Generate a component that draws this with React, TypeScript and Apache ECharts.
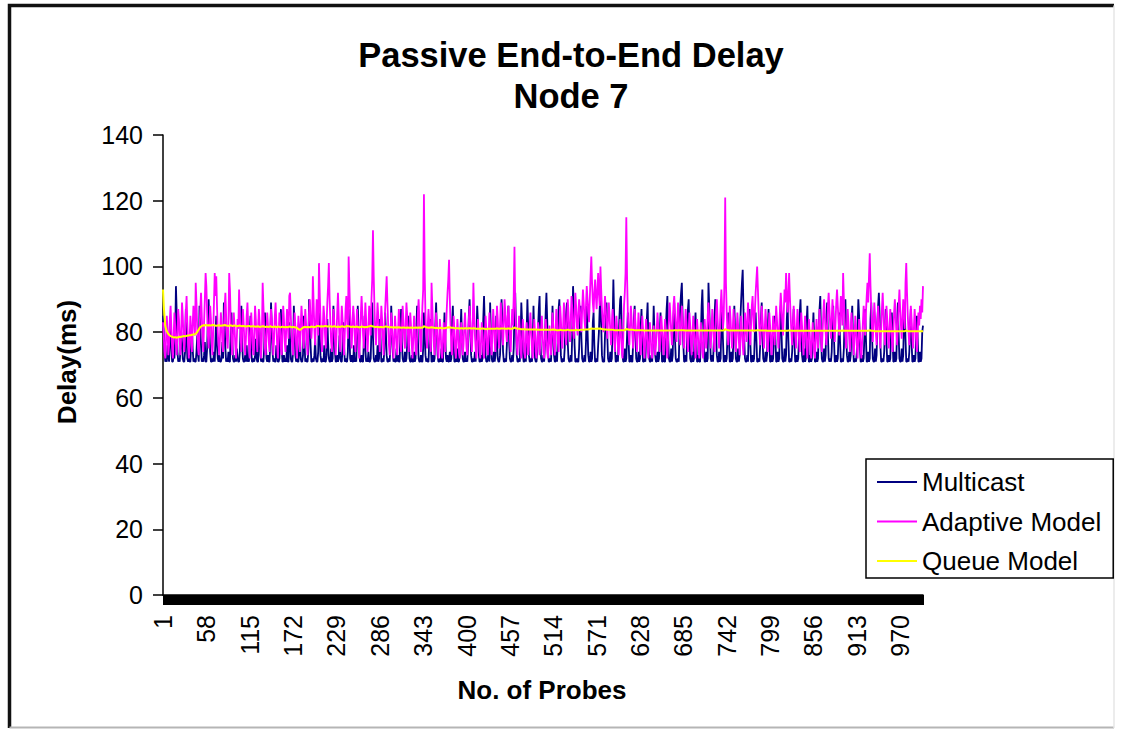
import React, { useEffect, useRef } from "react";
import * as echarts from "echarts";

const probeCount = 1000;
const probeNumbers: string[] = Array.from({ length: probeCount }, (_, i) => String(i + 1));
const yTicks = { min: 0, max: 140, step: 20 };
const seriesNames = ["Multicast", "Adaptive Model", "Queue Model"];

const multicast: number[] = [
  // 1
  85, 80, 74, 71, 72, 71, 76, 73, 71, 79,
  83, 75, 71, 71, 73, 72, 78, 94, 86, 74,
  71, 72, 71, 75, 80, 77, 72, 71, 71, 74,
  87, 79, 72, 71, 73, 71, 71, 76, 82, 75,
  71, 72, 71, 71, 74, 79, 73, 71, 88, 82,
  76, 71, 72, 71, 73, 77, 71, 71, 75, 84,
  90, 81, 74, 71, 71, 72, 71, 74, 71, 78,
  85, 76, 72, 71, 73, 71, 71, 72, 77, 72,
  89, 83, 75, 71, 72, 71, 74, 71, 71, 80,
  86, 78, 72, 71, 71, 73, 71, 75, 72, 71,
  // 101
  71, 74, 81, 88, 77, 72, 71, 71, 73, 71,
  76, 71, 72, 71, 79, 85, 74, 71, 71, 72,
  71, 73, 78, 72, 71, 71, 84, 80, 73, 71,
  72, 71, 71, 75, 86, 79, 72, 71, 73, 71,
  71, 77, 89, 82, 74, 71, 72, 71, 71, 76,
  73, 71, 71, 72, 80, 87, 75, 71, 71, 73,
  71, 72, 71, 76, 71, 71, 83, 78, 72, 71,
  71, 74, 88, 81, 73, 71, 72, 71, 71, 75,
  79, 72, 71, 71, 73, 85, 77, 71, 72, 71,
  71, 74, 90, 84, 76, 71, 71, 72, 71, 73,
  // 201
  78, 72, 71, 71, 74, 86, 80, 73, 71, 71,
  72, 71, 76, 71, 71, 73, 84, 77, 72, 71,
  71, 75, 71, 72, 88, 82, 74, 71, 71, 73,
  71, 72, 79, 73, 71, 71, 75, 83, 76, 71,
  72, 71, 71, 74, 87, 80, 72, 71, 73, 71,
  71, 76, 71, 72, 71, 78, 88, 81, 74, 71,
  71, 73, 71, 71, 77, 85, 75, 71, 72, 71,
  74, 71, 71, 72, 81, 89, 79, 72, 71, 71,
  73, 71, 76, 71, 72, 84, 78, 71, 71, 72,
  71, 75, 86, 80, 73, 71, 71, 72, 71, 77,
  // 301
  88, 82, 74, 71, 72, 71, 71, 75, 71, 73,
  71, 71, 79, 87, 77, 72, 71, 71, 74, 71,
  72, 76, 85, 79, 72, 71, 71, 73, 71, 71,
  74, 71, 72, 81, 88, 78, 72, 71, 71, 73,
  71, 71, 75, 86, 80, 73, 71, 72, 71, 71,
  77, 84, 76, 71, 71, 73, 71, 72, 82, 89,
  80, 73, 71, 71, 72, 71, 75, 71, 71, 78,
  86, 79, 72, 71, 73, 71, 71, 74, 71, 72,
  83, 88, 77, 71, 71, 72, 71, 75, 71, 71,
  73, 80, 87, 78, 72, 71, 71, 74, 71, 72,
  // 401
  71, 76, 85, 90, 81, 73, 71, 71, 72, 71,
  74, 71, 79, 88, 83, 74, 71, 71, 73, 71,
  72, 84, 91, 82, 73, 71, 71, 72, 76, 71,
  89, 80, 72, 71, 71, 74, 71, 73, 85, 78,
  72, 71, 71, 73, 79, 90, 84, 74, 71, 71,
  72, 71, 76, 84, 88, 77, 72, 71, 71, 73,
  71, 75, 86, 92, 81, 73, 71, 71, 72, 71,
  78, 89, 83, 74, 71, 71, 73, 71, 80, 90,
  82, 73, 71, 71, 72, 71, 76, 88, 79, 72,
  71, 71, 74, 81, 87, 91, 78, 72, 71, 71,
  // 501
  73, 71, 76, 86, 92, 84, 75, 71, 71, 72,
  71, 78, 88, 80, 73, 71, 71, 74, 71, 79,
  87, 90, 81, 73, 71, 71, 72, 71, 75, 83,
  86, 89, 77, 72, 71, 71, 73, 71, 80, 94,
  87, 76, 71, 71, 72, 71, 71, 75, 84, 88,
  78, 72, 71, 71, 73, 71, 77, 88, 81, 73,
  71, 71, 74, 71, 72, 83, 86, 76, 71, 71,
  72, 71, 76, 80, 87, 91, 82, 73, 71, 71,
  71, 79, 84, 89, 79, 72, 71, 71, 74, 71,
  72, 83, 96, 85, 76, 71, 71, 73, 71, 78,
  // 601
  85, 90, 91, 81, 73, 71, 71, 75, 71, 72,
  79, 86, 77, 71, 71, 73, 71, 71, 77, 84,
  88, 79, 72, 71, 71, 74, 71, 72, 82, 87,
  76, 71, 71, 72, 71, 78, 84, 89, 78, 72,
  71, 71, 73, 71, 77, 88, 80, 73, 71, 71,
  74, 71, 72, 79, 86, 77, 71, 71, 73, 71,
  71, 81, 87, 91, 79, 72, 71, 71, 75, 71,
  73, 84, 89, 78, 72, 71, 71, 72, 71, 82,
  88, 92, 95, 85, 76, 71, 71, 73, 71, 79,
  87, 90, 79, 72, 71, 71, 74, 71, 72, 82,
  // 701
  86, 78, 71, 71, 73, 71, 71, 79, 88, 93,
  83, 75, 71, 71, 74, 71, 72, 95, 88, 79,
  72, 71, 73, 71, 77, 85, 90, 80, 73, 71,
  71, 74, 71, 72, 83, 87, 78, 71, 71, 73,
  71, 72, 79, 86, 77, 71, 71, 74, 71, 72,
  81, 88, 80, 72, 71, 71, 75, 71, 73, 84,
  90, 95, 99, 87, 78, 72, 71, 71, 73, 71,
  82, 87, 77, 71, 71, 73, 71, 72, 80, 86,
  78, 71, 71, 72, 71, 76, 84, 89, 79, 72,
  71, 71, 74, 71, 73, 81, 87, 77, 71, 71,
  // 801
  73, 71, 72, 79, 85, 78, 71, 71, 74, 71,
  72, 83, 88, 80, 72, 71, 71, 75, 71, 73,
  84, 89, 78, 71, 71, 72, 71, 74, 81, 87,
  77, 71, 71, 73, 71, 72, 79, 86, 90, 80,
  73, 71, 71, 75, 71, 72, 83, 88, 78, 71,
  71, 73, 71, 72, 80, 86, 77, 71, 71, 74,
  71, 72, 81, 87, 91, 79, 72, 71, 71, 75,
  71, 73, 84, 89, 79, 72, 71, 72, 71, 74,
  83, 88, 78, 71, 71, 73, 71, 72, 79, 86,
  77, 71, 71, 72, 71, 75, 85, 90, 80, 73,
  // 901
  71, 71, 74, 71, 73, 83, 88, 78, 71, 71,
  72, 71, 74, 81, 90, 85, 77, 71, 71, 73,
  71, 72, 79, 87, 78, 71, 71, 74, 71, 72,
  84, 89, 79, 72, 71, 71, 75, 71, 73, 83,
  88, 92, 85, 76, 71, 71, 72, 71, 74, 81,
  87, 77, 71, 71, 73, 71, 72, 80, 86, 78,
  71, 71, 74, 71, 72, 83, 89, 79, 72, 71,
  71, 75, 71, 73, 84, 88, 78, 71, 71, 72,
  71, 74, 81, 87, 77, 71, 71, 73, 71, 72,
  79, 85, 78, 71, 71, 74, 71, 72, 80, 82,
];

const adaptiveModel: number[] = [
  // 1
  83, 79, 74, 72, 78, 85, 80, 73, 76, 84,
  88, 81, 75, 72, 79, 86, 82, 76, 73, 80,
  87, 84, 77, 73, 81, 89, 85, 78, 74, 79,
  86, 91, 83, 76, 72, 78, 85, 80, 74, 82,
  88, 84, 79, 95, 89, 81, 75, 73, 80, 87,
  92, 85, 78, 74, 83, 90, 98, 94, 86, 79,
  75, 82, 88, 84, 77, 73, 80, 89, 98, 91,
  97, 88, 80, 76, 73, 79, 86, 83, 77, 74,
  81, 87, 92, 85, 78, 75, 82, 98, 93, 84,
  77, 73, 79, 86, 82, 76, 72, 78, 84, 81,
  // 101
  93, 86, 79, 74, 80, 87, 83, 77, 73, 78,
  85, 89, 82, 76, 72, 79, 86, 81, 75, 73,
  80, 88, 84, 78, 74, 81, 87, 83, 76, 72,
  79, 95, 88, 81, 75, 73, 80, 86, 82, 77,
  74, 81, 87, 84, 79, 73, 78, 85, 89, 83,
  76, 72, 79, 86, 82, 75, 73, 80, 88, 84,
  77, 74, 81, 87, 83, 78, 91, 92, 85, 79,
  75, 73, 80, 86, 82, 76, 72, 79, 85, 81,
  74, 82, 88, 84, 78, 75, 81, 87, 83, 77,
  73, 79, 86, 90, 84, 78, 82, 97, 89, 81,
  // 201
  76, 83, 90, 86, 79, 101, 92, 84, 78, 74,
  81, 88, 85, 79, 75, 82, 89, 94, 101, 90,
  83, 77, 74, 80, 87, 84, 78, 73, 79, 86,
  92, 85, 78, 74, 81, 88, 84, 77, 73, 80,
  87, 91, 84, 78, 103, 94, 86, 80, 75, 82,
  88, 85, 79, 74, 80, 87, 83, 77, 72, 78,
  85, 91, 86, 79, 75, 82, 89, 84, 78, 74,
  81, 88, 85, 79, 90, 96, 111, 97, 87, 80,
  76, 83, 89, 85, 79, 74, 81, 88, 84, 78,
  73, 80, 87, 92, 97, 89, 82, 76, 73, 79,
  // 301
  86, 82, 76, 72, 78, 85, 81, 75, 73, 80,
  87, 83, 77, 74, 81, 88, 84, 78, 75, 82,
  89, 85, 79, 74, 80, 86, 82, 76, 72, 78,
  85, 81, 75, 73, 79, 86, 90, 84, 78, 74,
  81, 88, 93, 122, 98, 85, 79, 75, 82, 87,
  83, 77, 74, 95, 88, 81, 76, 73, 79, 86,
  82, 76, 72, 78, 84, 80, 74, 72, 77, 83,
  79, 74, 81, 87, 92, 96, 102, 90, 82, 76,
  73, 79, 85, 81, 75, 72, 78, 84, 80, 74,
  72, 77, 83, 79, 73, 76, 82, 86, 80, 75,
  // 401
  73, 78, 84, 88, 83, 77, 74, 81, 95, 86,
  79, 75, 72, 78, 84, 80, 74, 72, 77, 83,
  79, 74, 72, 78, 85, 81, 75, 73, 79, 86,
  82, 76, 73, 80, 87, 83, 77, 74, 81, 88,
  84, 78, 75, 82, 89, 85, 79, 76, 83, 90,
  86, 80, 77, 84, 88, 83, 78, 74, 81, 87,
  82, 91, 106, 88, 81, 76, 73, 79, 85, 81,
  75, 72, 78, 84, 80, 74, 72, 77, 83, 79,
  73, 76, 82, 86, 80, 75, 72, 78, 84, 80,
  74, 72, 77, 83, 79, 73, 76, 81, 85, 79,
  // 501
  74, 72, 78, 84, 80, 74, 72, 77, 82, 78,
  73, 79, 86, 82, 76, 73, 80, 87, 83, 77,
  74, 81, 88, 84, 78, 75, 82, 89, 85, 79,
  76, 83, 90, 86, 80, 77, 84, 91, 87, 81,
  78, 85, 92, 88, 82, 79, 86, 90, 87, 83,
  80, 87, 93, 89, 84, 81, 88, 94, 90, 86,
  83, 90, 97, 103, 95, 89, 86, 92, 96, 91,
  87, 93, 98, 92, 88, 100, 93, 87, 83, 80,
  86, 91, 87, 82, 78, 84, 89, 85, 80, 76,
  82, 87, 83, 78, 74, 80, 85, 81, 76, 73,
  // 601
  79, 84, 80, 75, 72, 78, 88, 92, 98, 115,
  97, 86, 80, 76, 82, 88, 84, 79, 75, 81,
  87, 83, 78, 74, 80, 86, 82, 77, 73, 79,
  85, 81, 76, 72, 78, 84, 80, 75, 72, 77,
  83, 79, 74, 72, 77, 82, 78, 73, 76, 81,
  86, 82, 77, 74, 80, 85, 81, 76, 73, 79,
  84, 80, 75, 72, 78, 84, 89, 85, 80, 76,
  82, 88, 91, 86, 81, 77, 83, 89, 85, 80,
  76, 82, 88, 84, 79, 75, 81, 87, 83, 78,
  74, 80, 86, 82, 77, 73, 79, 85, 81, 76,
  // 701
  72, 78, 84, 80, 75, 72, 77, 83, 79, 74,
  72, 78, 84, 80, 75, 79, 85, 89, 84, 79,
  75, 81, 87, 83, 78, 74, 80, 86, 90, 84,
  79, 75, 82, 88, 93, 87, 81, 84, 96, 121,
  95, 86, 80, 76, 82, 88, 84, 79, 75, 81,
  87, 83, 78, 74, 80, 86, 82, 77, 73, 79,
  85, 81, 76, 73, 79, 86, 82, 77, 83, 89,
  85, 80, 76, 82, 88, 91, 85, 80, 86, 92,
  96, 100, 93, 86, 80, 76, 82, 88, 84, 79,
  75, 81, 87, 83, 78, 74, 80, 86, 82, 77,
  // 801
  73, 79, 85, 81, 76, 82, 88, 84, 79, 75,
  81, 87, 92, 88, 83, 79, 86, 93, 89, 98,
  92, 86, 90, 98, 91, 85, 80, 76, 82, 88,
  84, 79, 75, 81, 87, 83, 78, 74, 80, 86,
  82, 77, 73, 79, 85, 81, 76, 72, 78, 84,
  80, 75, 72, 77, 83, 79, 74, 72, 78, 84,
  80, 75, 81, 87, 83, 78, 74, 80, 86, 90,
  85, 80, 76, 82, 88, 92, 87, 82, 78, 84,
  90, 86, 81, 77, 83, 89, 93, 88, 83, 79,
  85, 91, 87, 82, 98, 90, 84, 79, 75, 81,
  // 901
  87, 83, 78, 74, 80, 86, 82, 77, 73, 79,
  85, 81, 76, 72, 78, 84, 80, 75, 72, 77,
  83, 88, 84, 79, 86, 91, 95, 89, 97, 104,
  94, 87, 81, 77, 83, 89, 85, 80, 76, 82,
  88, 84, 79, 75, 81, 87, 92, 86, 80, 76,
  82, 88, 84, 79, 75, 81, 87, 83, 78, 74,
  80, 86, 90, 85, 80, 76, 82, 88, 93, 87,
  82, 78, 84, 90, 86, 81, 95, 101, 92, 85,
  80, 76, 82, 88, 84, 79, 75, 81, 87, 83,
  78, 74, 80, 86, 82, 88, 84, 90, 86, 94,
];

const queueModel: number[] = [
  // 1
  93, 88, 84.5, 82, 81, 80.3, 79.8, 79.5, 79.2, 79,
  78.8, 78.7, 78.6, 78.5, 78.4, 78.4, 78.5, 78.4, 78.3, 78.4,
  78.5, 78.5, 78.6, 78.5, 78.6, 78.7, 78.7, 78.8, 78.8, 78.7,
  78.8, 78.9, 78.9, 79, 79, 79.1, 79, 79.1, 79.2, 79.2,
  79.3, 79.3, 79.4, 79.5, 79.7, 80, 80.4, 80.8, 81.2, 81.5,
  81.7, 81.9, 82, 82.1, 82, 82.1, 82.2, 82.1, 82.1, 82,
  82.1, 82.1, 82, 82, 82.1, 82.2, 82.2, 82.1, 82, 82,
  81.9, 82, 82, 82.1, 82.1, 82, 81.9, 82, 82, 82,
  82.1, 82.2, 82.1, 82, 82, 81.9, 81.9, 82, 82.1, 82,
  82, 81.9, 81.9, 82, 82, 82, 81.9, 81.8, 81.9, 81.9,
  // 101
  82, 82, 81.9, 81.8, 81.8, 81.9, 81.9, 81.8, 81.8, 81.7,
  81.8, 81.8, 81.9, 81.9, 81.8, 81.7, 81.7, 81.8, 81.8, 81.8,
  81.7, 81.7, 81.6, 81.7, 81.8, 81.8, 81.7, 81.6, 81.6, 81.7,
  81.7, 81.8, 81.8, 81.7, 81.6, 81.6, 81.7, 81.7, 81.6, 81.6,
  81.7, 81.8, 81.7, 81.6, 81.6, 81.6, 81.7, 81.7, 81.6, 81.5,
  81.6, 81.7, 81.7, 81.6, 81.5, 81.5, 81.6, 81.7, 81.6, 81.5,
  81.5, 81.6, 81.6, 81.5, 81.5, 81.6, 81.7, 81.7, 81.6, 81.5,
  81.5, 81.6, 81.6, 81.5, 81.4, 81.4, 81.3, 81.1, 80.9, 80.8,
  80.7, 80.8, 81, 81.2, 81.4, 81.5, 81.6, 81.6, 81.5, 81.5,
  81.6, 81.6, 81.5, 81.5, 81.6, 81.7, 81.7, 81.6, 81.6, 81.5,
  // 201
  81.6, 81.7, 81.8, 81.9, 81.9, 81.8, 81.7, 81.7, 81.8, 81.8,
  81.7, 81.7, 81.8, 81.9, 81.9, 81.8, 81.7, 81.7, 81.8, 81.8,
  81.8, 81.7, 81.6, 81.7, 81.7, 81.8, 81.8, 81.7, 81.6, 81.6,
  81.7, 81.7, 81.6, 81.6, 81.7, 81.8, 81.8, 81.7, 81.6, 81.6,
  81.7, 81.8, 81.9, 81.8, 81.8, 81.7, 81.7, 81.6, 81.6, 81.7,
  81.7, 81.6, 81.6, 81.6, 81.7, 81.7, 81.6, 81.5, 81.5, 81.6,
  81.6, 81.7, 81.7, 81.6, 81.6, 81.5, 81.5, 81.6, 81.6, 81.6,
  81.7, 81.7, 81.8, 82, 81.9, 81.8, 81.7, 81.7, 81.6, 81.6,
  81.6, 81.7, 81.6, 81.6, 81.5, 81.5, 81.6, 81.6, 81.5, 81.5,
  81.5, 81.6, 81.7, 81.7, 81.7, 81.6, 81.6, 81.5, 81.5, 81.5,
  // 301
  81.5, 81.5, 81.4, 81.4, 81.5, 81.5, 81.4, 81.4, 81.4, 81.5,
  81.5, 81.4, 81.4, 81.3, 81.3, 81.4, 81.4, 81.4, 81.3, 81.3,
  81.3, 81.4, 81.4, 81.3, 81.3, 81.3, 81.4, 81.4, 81.3, 81.3,
  81.3, 81.3, 81.4, 81.4, 81.3, 81.3, 81.4, 81.4, 81.3, 81.3,
  81.4, 81.4, 81.5, 81.8, 81.7, 81.6, 81.5, 81.4, 81.4, 81.3,
  81.3, 81.4, 81.4, 81.5, 81.4, 81.4, 81.3, 81.3, 81.2, 81.3,
  81.3, 81.2, 81.2, 81.2, 81.3, 81.3, 81.2, 81.2, 81.2, 81.2,
  81.2, 81.2, 81.3, 81.3, 81.4, 81.4, 81.5, 81.5, 81.4, 81.3,
  81.3, 81.3, 81.3, 81.2, 81.2, 81.2, 81.2, 81.2, 81.2, 81.1,
  81.1, 81.1, 81.2, 81.2, 81.1, 81.1, 81.1, 81.2, 81.2, 81.1,
  // 401
  81.1, 81.1, 81.2, 81.2, 81.2, 81.1, 81.1, 81.1, 81.2, 81.2,
  81.1, 81.1, 81, 81, 81, 81, 81, 81, 81, 81.1,
  81.1, 81.1, 81, 81, 80.9, 80.9, 81, 81, 81, 81,
  81, 81, 81, 81, 81, 81, 81, 81, 81.1, 81.1,
  81.1, 81, 81, 81, 81.1, 81.1, 81.1, 81.1, 81.1, 81.1,
  81, 81, 81, 81.1, 81.1, 81.1, 81, 81, 81, 81.1,
  81.1, 81.2, 81.4, 81.3, 81.2, 81.1, 81, 81, 81, 81,
  80.9, 80.9, 80.9, 80.9, 80.9, 80.9, 80.9, 80.8, 80.8, 80.8,
  80.8, 80.8, 80.8, 80.8, 80.8, 80.8, 80.8, 80.8, 80.8, 80.8,
  80.8, 80.8, 80.7, 80.7, 80.7, 80.7, 80.7, 80.7, 80.7, 80.7,
  // 501
  80.7, 80.7, 80.7, 80.7, 80.7, 80.7, 80.7, 80.7, 80.7, 80.7,
  80.7, 80.7, 80.8, 80.8, 80.7, 80.7, 80.7, 80.6, 80.6, 80.6,
  80.6, 80.6, 80.7, 80.7, 80.6, 80.6, 80.6, 80.6, 80.6, 80.6,
  80.6, 80.7, 80.7, 80.7, 80.6, 80.6, 80.6, 80.6, 80.6, 80.6,
  80.6, 80.6, 80.6, 80.7, 80.7, 80.6, 80.6, 80.6, 80.7, 80.7,
  80.7, 80.7, 80.7, 80.7, 80.7, 80.8, 80.8, 80.8, 80.8, 80.8,
  80.9, 80.9, 81, 81.1, 81.1, 81, 81, 81, 81, 81,
  81, 81, 81.1, 81.1, 81, 81.1, 81, 80.9, 80.9, 80.9,
  80.8, 80.8, 80.8, 80.8, 80.7, 80.7, 80.7, 80.7, 80.7, 80.7,
  80.7, 80.7, 80.7, 80.6, 80.6, 80.6, 80.6, 80.6, 80.6, 80.6,
  // 601
  80.6, 80.6, 80.6, 80.6, 80.6, 80.6, 80.6, 80.6, 80.7, 81,
  80.9, 80.8, 80.8, 80.7, 80.7, 80.7, 80.7, 80.7, 80.7, 80.6,
  80.6, 80.6, 80.6, 80.6, 80.6, 80.6, 80.6, 80.6, 80.6, 80.6,
  80.6, 80.6, 80.5, 80.5, 80.5, 80.5, 80.5, 80.5, 80.5, 80.5,
  80.5, 80.5, 80.5, 80.5, 80.5, 80.5, 80.5, 80.5, 80.5, 80.5,
  80.5, 80.5, 80.5, 80.5, 80.5, 80.5, 80.5, 80.5, 80.5, 80.5,
  80.5, 80.5, 80.5, 80.5, 80.5, 80.5, 80.5, 80.5, 80.5, 80.5,
  80.5, 80.5, 80.6, 80.6, 80.6, 80.6, 80.5, 80.5, 80.6, 80.6,
  80.6, 80.6, 80.6, 80.6, 80.6, 80.6, 80.5, 80.5, 80.5, 80.5,
  80.5, 80.5, 80.5, 80.5, 80.5, 80.5, 80.5, 80.5, 80.5, 80.5,
  // 701
  80.5, 80.5, 80.5, 80.5, 80.5, 80.5, 80.5, 80.5, 80.5, 80.5,
  80.5, 80.5, 80.5, 80.5, 80.5, 80.5, 80.5, 80.5, 80.5, 80.5,
  80.5, 80.5, 80.5, 80.5, 80.5, 80.5, 80.5, 80.5, 80.5, 80.5,
  80.5, 80.5, 80.5, 80.5, 80.5, 80.5, 80.5, 80.6, 80.6, 80.9,
  80.8, 80.7, 80.6, 80.6, 80.5, 80.5, 80.5, 80.5, 80.5, 80.5,
  80.5, 80.5, 80.5, 80.5, 80.5, 80.5, 80.5, 80.5, 80.5, 80.5,
  80.5, 80.5, 80.5, 80.5, 80.5, 80.5, 80.5, 80.5, 80.5, 80.5,
  80.5, 80.5, 80.5, 80.5, 80.5, 80.5, 80.5, 80.5, 80.5, 80.5,
  80.5, 80.6, 80.6, 80.6, 80.5, 80.5, 80.5, 80.5, 80.5, 80.5,
  80.5, 80.5, 80.5, 80.5, 80.4, 80.4, 80.4, 80.4, 80.4, 80.4,
  // 801
  80.4, 80.4, 80.4, 80.4, 80.4, 80.4, 80.4, 80.4, 80.4, 80.4,
  80.4, 80.4, 80.4, 80.4, 80.4, 80.4, 80.4, 80.4, 80.4, 80.4,
  80.4, 80.4, 80.5, 80.5, 80.5, 80.5, 80.4, 80.4, 80.4, 80.4,
  80.4, 80.4, 80.4, 80.4, 80.4, 80.4, 80.4, 80.4, 80.4, 80.4,
  80.4, 80.4, 80.4, 80.4, 80.4, 80.4, 80.4, 80.4, 80.4, 80.4,
  80.4, 80.4, 80.4, 80.4, 80.4, 80.4, 80.4, 80.4, 80.4, 80.4,
  80.4, 80.4, 80.4, 80.4, 80.4, 80.4, 80.4, 80.4, 80.4, 80.4,
  80.4, 80.4, 80.4, 80.4, 80.4, 80.4, 80.4, 80.4, 80.4, 80.4,
  80.4, 80.4, 80.4, 80.4, 80.4, 80.4, 80.4, 80.4, 80.4, 80.4,
  80.4, 80.4, 80.4, 80.4, 80.5, 80.5, 80.4, 80.4, 80.4, 80.4,
  // 901
  80.4, 80.4, 80.4, 80.4, 80.4, 80.4, 80.4, 80.4, 80.4, 80.4,
  80.4, 80.4, 80.4, 80.4, 80.4, 80.4, 80.4, 80.4, 80.4, 80.4,
  80.4, 80.4, 80.4, 80.4, 80.4, 80.4, 80.4, 80.4, 80.5, 80.6,
  80.5, 80.4, 80.4, 80.4, 80.4, 80.3, 80.3, 80.3, 80.3, 80.3,
  80.3, 80.3, 80.3, 80.3, 80.3, 80.3, 80.3, 80.3, 80.3, 80.3,
  80.3, 80.3, 80.3, 80.3, 80.3, 80.3, 80.3, 80.3, 80.3, 80.3,
  80.3, 80.3, 80.3, 80.3, 80.3, 80.3, 80.3, 80.3, 80.3, 80.3,
  80.3, 80.3, 80.3, 80.3, 80.3, 80.3, 80.4, 80.5, 80.4, 80.3,
  80.3, 80.3, 80.3, 80.3, 80.3, 80.3, 80.3, 80.3, 80.3, 80.3,
  80.3, 80.3, 80.3, 80.3, 80.3, 80.3, 80.3, 80.3, 80.3, 80.3,
];

const FONT = "'Liberation Sans', Arial, Helvetica, sans-serif";

export default function App() {
  const ref = useRef<HTMLDivElement>(null);

  useEffect(() => {
    if (!ref.current) return;
    const chart = echarts.init(ref.current, null, { renderer: "svg" });
    chart.setOption({
      animation: false,
      backgroundColor: "#ffffff",
      grid: { left: 163, top: 135, right: 200, bottom: 134, containLabel: false },
      xAxis: {
        type: "category",
        data: probeNumbers,
        boundaryGap: false,
        axisLine: { show: true, lineStyle: { color: "#000", width: 1.5 } },
        axisTick: { show: true, interval: 0, length: 10, lineStyle: { color: "#000", width: 1 } },
        axisLabel: {
          interval: 56,
          rotate: 90,
          margin: 20,
          fontSize: 25,
          fontFamily: FONT,
          color: "#000",
        },
        splitLine: { show: false },
      },
      yAxis: {
        type: "value",
        min: yTicks.min,
        max: yTicks.max,
        interval: yTicks.step,
        axisLine: { show: true, lineStyle: { color: "#000", width: 1.5 } },
        axisTick: { show: true, length: 10, lineStyle: { color: "#000", width: 1.5 } },
        axisLabel: { margin: 20, fontSize: 25, fontFamily: FONT, color: "#000" },
        splitLine: { show: false },
      },
      legend: {
        orient: "vertical",
        left: 866,
        top: 459,
        padding: [10, 12, 4, 10],
        itemGap: 13.5,
        itemWidth: 40,
        itemHeight: 14,
        borderColor: "#000",
        borderWidth: 1.5,
        borderRadius: 0,
        backgroundColor: "#fff",
        data: seriesNames,
        lineStyle: { width: 2 },
        itemStyle: { opacity: 0 },
        textStyle: { fontSize: 26, fontFamily: FONT, color: "#000" },
      },
      graphic: [
        {
          type: "text",
          x: 571,
          y: 55,
          silent: true,
          style: {
            text: "Passive End-to-End Delay",
            fontSize: 34.5,
            fontWeight: "bold",
            fontFamily: FONT,
            fill: "#000",
            align: "center",
            verticalAlign: "middle",
          },
        },
        {
          type: "text",
          x: 571,
          y: 96,
          silent: true,
          style: {
            text: "Node 7",
            fontSize: 34.5,
            fontWeight: "bold",
            fontFamily: FONT,
            fill: "#000",
            align: "center",
            verticalAlign: "middle",
          },
        },
        {
          type: "text",
          x: 67,
          y: 362,
          rotation: Math.PI / 2,
          silent: true,
          style: {
            text: "Delay(ms)",
            fontSize: 26,
            fontWeight: "bold",
            fontFamily: FONT,
            fill: "#000",
            align: "center",
            verticalAlign: "middle",
          },
        },
        {
          type: "text",
          x: 542,
          y: 690,
          silent: true,
          style: {
            text: "No. of Probes",
            fontSize: 26,
            fontWeight: "bold",
            fontFamily: FONT,
            fill: "#000",
            align: "center",
            verticalAlign: "middle",
          },
        },
        {
          type: "polyline",
          silent: true,
          shape: { points: [[9.5, 728], [9.5, 5.5], [1114, 5.5]] },
          style: { stroke: "#111", lineWidth: 3.5, fill: "none" },
        },
        {
          type: "line",
          silent: true,
          shape: { x1: 9.5, y1: 727.5, x2: 1114, y2: 727.5 },
          style: { stroke: "#b5b5b5", lineWidth: 2 },
        },
        {
          type: "line",
          silent: true,
          shape: { x1: 1114, y1: 5.5, x2: 1114, y2: 728 },
          style: { stroke: "#e6e6e6", lineWidth: 1.5 },
        },
      ],
      series: [
        {
          name: seriesNames[0],
          type: "line",
          data: multicast,
          symbol: "none",
          lineStyle: { color: "#000080", width: 1.8 },
          itemStyle: { color: "#000080" },
        },
        {
          name: seriesNames[1],
          type: "line",
          data: adaptiveModel,
          symbol: "none",
          lineStyle: { color: "#ff00ff", width: 1.8 },
          itemStyle: { color: "#ff00ff" },
        },
        {
          name: seriesNames[2],
          type: "line",
          data: queueModel,
          symbol: "none",
          lineStyle: { color: "#ffff00", width: 2 },
          itemStyle: { color: "#ffff00" },
        },
      ],
    });
    return () => chart.dispose();
  }, []);

  return (
    <div
      ref={ref}
      style={{ position: "fixed", left: 0, top: 0, width: 1123, height: 729, background: "#fff" }}
    />
  );
}
